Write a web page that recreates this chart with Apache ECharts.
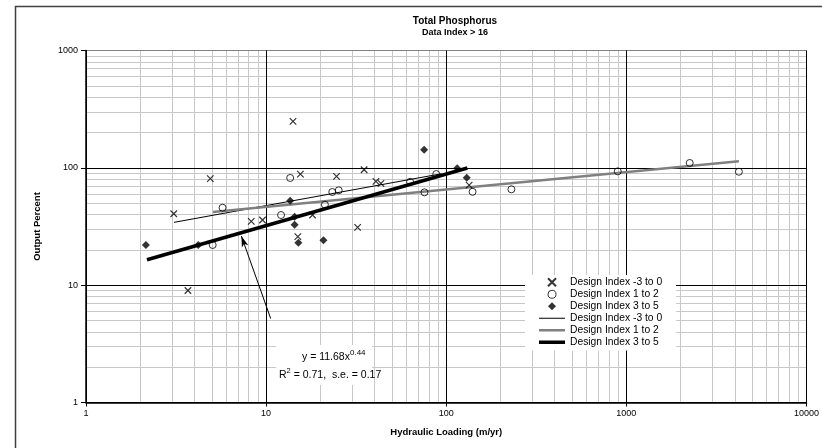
<!DOCTYPE html>
<html>
<head>
<meta charset="utf-8">
<script src="https://cdn.jsdelivr.net/npm/echarts@6/dist/echarts.min.js"></script>
<style>
  html, body { margin: 0; padding: 0; background: #fff; }
  #chart { width: 822px; height: 448px; }
</style>
</head>
<body>
<div id="chart"></div>
<script>
// Hydraulic loading (m/yr) vs output percent, by design index group
const crossPoints = [
  [3.07, 40.6], [3.68, 9.0], [4.9, 81], [8.27, 35], [9.55, 35.9],
  [14.1, 249], [15.5, 88.5], [18.1, 39.6], [15.0, 25.9], [24.6, 84.6],
  [32.2, 31.1], [35, 96.4], [40.7, 76.7], [43.4, 73.8], [134, 71.3]
];
const circlePoints = [
  [5.05, 22], [5.73, 45.7], [12.1, 39.6], [13.6, 82], [21.2, 48.5],
  [23.3, 62.2], [25.3, 64.3], [63, 76], [75.7, 61.8], [88, 88.5],
  [140, 62.5], [230, 65.6], [896, 93.3], [2248, 110], [4214, 92.6]
];
const diamondPoints = [
  [2.15, 22], [4.2, 22], [13.6, 52.5], [14.4, 38.3], [14.4, 32.7],
  [15.1, 23], [20.8, 24.1], [75.4, 142.6], [115, 99], [130, 82.4]
];

// Power-law trend lines (end points)
const trendLow = [[3.08, 34.3], [94, 89]];
const trendMid = [[5.07, 42], [4214, 113.6]];
const fitCoef = 11.68, fitExp = 0.44, fitRange = [2.18, 131];
const trendHigh = fitRange.map(x => [x, fitCoef * Math.pow(x, fitExp)]);

// Arrow pointing from the equation box to the fitted line
const arrowTail = [10.6, 5.2];
const arrowHead = [7.29, 26.2];

const xTickLabels = ['1', '10', '100', '1000', '10000'];
const yTickLabels = ['1', '10', '100', '1000'];

const legendText = {
  sx: 'Design Index -3 to 0',
  so: 'Design Index 1 to 2',
  sd: 'Design Index 3 to 5',
  lx: 'Design Index -3 to 0',
  lo: 'Design Index 1 to 2',
  ld: 'Design Index 3 to 5'
};

const FONT = 'Liberation Sans, Arial, sans-serif';

// Minor log grid values 2..9 within each decade
function minorValues(decades) {
  const out = [];
  for (let k = 0; k < decades; k++) {
    for (let m = 2; m <= 9; m++) out.push(m * Math.pow(10, k));
  }
  return out;
}
const minorGrid = minorValues(4).map(v => ({ xAxis: v }))
  .concat(minorValues(3).map(v => ({ yAxis: v })));

const crossPath = 'path://M0,0L10,10M10,0L0,10';
const diamondPath = 'path://M5,0L10,5L5,10L0,5Z';
const barIcon = (h) => 'path://M0,0h26v' + h + 'h-26z';

const chart = echarts.init(document.getElementById('chart'), null, { renderer: 'canvas' });

chart.setOption({
  animation: false,
  backgroundColor: '#fff',
  title: [
    {
      text: 'Total Phosphorus',
      left: 450, top: 11, textAlign: 'center',
      textStyle: { fontFamily: FONT, fontSize: 10, fontWeight: 'bold', color: '#000' }
    },
    {
      text: 'Data Index > 16',
      left: 450, top: 23, textAlign: 'center',
      textStyle: { fontFamily: FONT, fontSize: 9, fontWeight: 'bold', color: '#000' }
    }
  ],
  grid: { left: 86, top: 50.5, right: 8, bottom: 45.5, containLabel: false },
  xAxis: {
    type: 'log', logBase: 10, min: 1, max: 10000, z: 2,
    name: 'Hydraulic Loading (m/yr)', nameLocation: 'middle', nameGap: 25,
    nameTextStyle: { fontFamily: FONT, fontSize: 9.5, fontWeight: 'bold', color: '#000' },
    axisLine: { lineStyle: { color: '#000', width: 1.5 } },
    axisTick: { show: true, length: 4, lineStyle: { color: '#000' } },
    axisLabel: {
      fontFamily: FONT, fontSize: 9, color: '#000', margin: 7,
      alignMaxLabel: 'center',
      formatter: (v) => xTickLabels[Math.round(Math.log10(v))] || ''
    },
    splitLine: { show: true, lineStyle: { color: '#000', width: 1 } }
  },
  yAxis: {
    type: 'log', logBase: 10, min: 1, max: 1000, z: 2,
    name: 'Output Percent', nameLocation: 'middle', nameGap: 44, nameRotate: 90,
    nameTextStyle: { fontFamily: FONT, fontSize: 9.5, fontWeight: 'bold', color: '#000' },
    axisLine: { lineStyle: { color: '#000', width: 1.5 } },
    axisTick: { show: true, length: 5, inside: false, lineStyle: { color: '#000' } },
    axisLabel: {
      fontFamily: FONT, fontSize: 9, color: '#000', margin: 8,
      formatter: (v) => yTickLabels[Math.round(Math.log10(v))] || ''
    },
    splitLine: {
      show: true,
      lineStyle: { color: ['#000', '#000', '#000', '#808080'], width: 1 }
    }
  },
  legend: {
    orient: 'vertical',
    left: 525, top: 275,
    backgroundColor: '#fff',
    padding: [2, 14, 3, 14],
    itemWidth: 26, itemHeight: 8, itemGap: 1.5, itemTextGap: 3,
    selectedMode: false,
    textStyle: { fontFamily: FONT, fontSize: 10.3, color: '#000', lineHeight: 10.5 },
    formatter: (name) => legendText[name],
    data: [
      { name: 'sx', icon: crossPath },
      { name: 'so', icon: 'path://M5,0A5,5,0,1,1,4.99,0Z',
        itemStyle: { color: 'transparent', borderColor: '#000', borderWidth: 1 } },
      { name: 'sd', icon: diamondPath },
      { name: 'lx', icon: barIcon(1) },
      { name: 'lo', icon: barIcon(2.5) },
      { name: 'ld', icon: barIcon(3.5) }
    ]
  },
  graphic: [
    {
      type: 'rect', z: 100, silent: true,
      shape: { x: 15.5, y: 6.5, width: 900, height: 500 },
      style: { fill: 'none', stroke: '#404040', lineWidth: 1.5 }
    },
    {
      type: 'rect', z: 50, silent: true,
      shape: { x: 276, y: 345, width: 96, height: 40 },
      style: { fill: '#fff', stroke: 'none' }
    },
    {
      type: 'text', z: 51, silent: true, left: 302, top: 349,
      style: {
        text: '{n|y = 11.68x}{s|0.44}',
        rich: {
          n: { fontFamily: FONT, fontSize: 10.5, color: '#000', lineHeight: 14, verticalAlign: 'bottom' },
          s: { fontFamily: FONT, fontSize: 8, color: '#000', lineHeight: 14, verticalAlign: 'top' }
        }
      }
    },
    {
      type: 'text', z: 51, silent: true, left: 279, top: 367,
      style: {
        text: '{n|R}{s|2}{n| = 0.71,  s.e. = 0.17}',
        rich: {
          n: { fontFamily: FONT, fontSize: 10.5, color: '#000', lineHeight: 14, verticalAlign: 'bottom' },
          s: { fontFamily: FONT, fontSize: 7.5, color: '#000', lineHeight: 14, verticalAlign: 'top' }
        }
      }
    }
  ],
  series: [
    {
      // light minor grid
      name: 'grid', type: 'scatter', data: [], silent: true,
      markLine: {
        z: 1, silent: true, symbol: 'none', animation: false,
        label: { show: false },
        lineStyle: { color: '#c8c8c8', width: 1, type: 'solid' },
        emphasis: { disabled: true },
        data: minorGrid
      }
    },
    {
      name: 'lx', type: 'line', z: 3, data: trendLow, symbol: 'none', showSymbol: false,
      lineStyle: { color: '#000', width: 1 }, itemStyle: { color: '#000' }
    },
    {
      name: 'lo', type: 'line', z: 3, data: trendMid, symbol: 'none', showSymbol: false,
      lineStyle: { color: '#808080', width: 2.5 }, itemStyle: { color: '#808080' }
    },
    {
      name: 'ld', type: 'line', z: 3, data: trendHigh, symbol: 'none', showSymbol: false,
      lineStyle: { color: '#000', width: 3.5 }, itemStyle: { color: '#000' },
      markLine: {
        z: 4, silent: true, animation: false,
        symbol: ['none', 'arrow'], symbolSize: [5, 11],
        label: { show: false },
        lineStyle: { color: '#000', width: 1, type: 'solid' },
        data: [[{ coord: arrowTail }, { coord: arrowHead }]]
      }
    },
    {
      name: 'sx', type: 'scatter', z: 4, data: crossPoints,
      symbol: crossPath, symbolSize: 6.5,
      itemStyle: { color: 'transparent', borderColor: '#000', borderWidth: 1.2 }
    },
    {
      name: 'so', type: 'scatter', z: 4, data: circlePoints,
      symbol: 'circle', symbolSize: 7,
      itemStyle: { color: 'transparent', borderColor: '#000', borderWidth: 1 }
    },
    {
      name: 'sd', type: 'scatter', z: 4, data: diamondPoints,
      symbol: 'diamond', symbolSize: 8,
      itemStyle: { color: '#000' }
    }
  ]
});
</script>
</body>
</html>
